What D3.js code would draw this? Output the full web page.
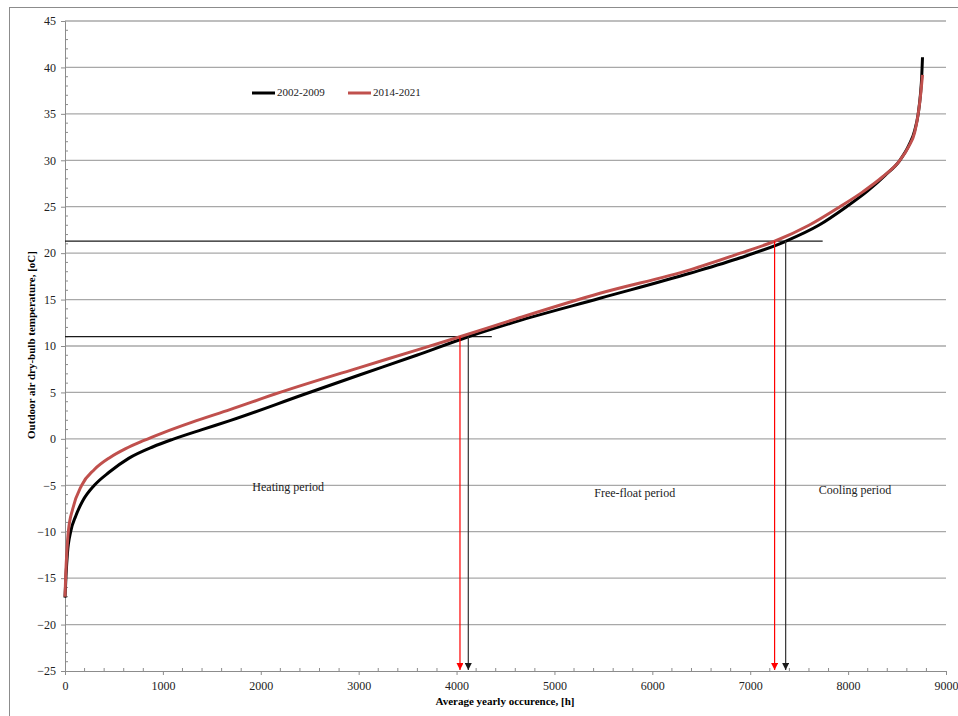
<!DOCTYPE html>
<html lang="en">
<head>
<meta charset="UTF-8">
<title>Outdoor air dry-bulb temperature duration curve</title>
<script src="https://d3js.org/d3.v7.min.js"></script>
<style>
    body { margin: 0; background: #fff; }
    svg text { font-family: "Liberation Serif", "Times New Roman", serif; }
</style>
</head>
<body>
<svg id="chart" width="958" height="716"></svg>
<script>
    // duration curves, hours vs temperature
    const hours2002 = [0, 10, 25, 58, 110, 180, 300, 450, 650, 900, 1100, 1400, 1685, 2431, 3000, 3592, 4120, 4600, 5465, 6384, 6900, 7362, 7700, 7984, 8200, 8380, 8529, 8620, 8680, 8716, 8740, 8752, 8760];
    const temp2002  = [-17.1, -14.8, -12.3, -10, -8.3, -6.7, -5, -3.6, -2.1, -0.85, -0.05, 1.0, 1.96, 4.75, 6.85, 9.0, 11, 12.6, 15.14, 17.83, 19.5, 21.28, 23.0, 25, 26.7, 28.4, 30, 31.6, 33.2, 35, 37.2, 39, 41.1];
    const hours2014 = [0, 8, 20, 34, 80, 170, 300, 460, 620, 800, 1000, 1300, 1685, 2196, 3000, 3592, 4035, 4600, 5465, 6384, 6900, 7249, 7600, 7916, 8150, 8350, 8529, 8620, 8680, 8716, 8740, 8760];
    const temp2014  = [-17, -14.5, -12, -10, -7.5, -5, -3.3, -2.0, -1.05, -0.2, 0.65, 1.8, 3.15, 5, 7.65, 9.55, 11, 12.9, 15.68, 18.2, 20.0, 21.28, 23.0, 25, 26.6, 28.2, 30, 31.5, 33, 35, 37, 39.2];

    const seriesNames = ["2002-2009", "2014-2021"];
    const seriesColors = ["#000000", "#c0504d"];

    // period limits
    const limitTemps = [11, 21.3];
    const limitLineEnds = [4360, 7740];
    const crossBlack = [4120, 7362];
    const crossRed = [4035, 7249];

    const periodLabels = ["Heating period", "Free-float period", "Cooling period"];
    const periodX = [2280, 5820, 8070];
    const periodY = [-5.3, -6.0, -5.6];

    const xTicks = d3.range(0, 9001, 1000);
    const yTicks = d3.range(-25, 46, 5);

    const svg = d3.select("#chart");
    const x = d3.scaleLinear().domain([0, 9000]).range([65, 946]);
    const y = d3.scaleLinear().domain([-25, 45]).range([671, 21]);

    // outer frame (cropped in the picture)
    svg.append("rect")
        .attr("x", 9.5).attr("y", 7.5)
        .attr("width", 1000).attr("height", 800)
        .attr("fill", "none").attr("stroke", "#8c8c8c");

    // gridlines
    svg.append("g").selectAll("line")
        .data(yTicks.filter(t => t > -25))
        .join("line")
        .attr("x1", x(0)).attr("x2", x(9000))
        .attr("y1", d => y(d)).attr("y2", d => y(d))
        .attr("stroke", "#a8a8a8").attr("stroke-width", 1.3);

    // y axis with inward minor ticks
    const yAxis = svg.append("g").attr("transform", `translate(${x(0)},0)`)
        .call(d3.axisLeft(y).tickValues(yTicks).tickSize(4).tickPadding(5));
    yAxis.append("g").selectAll("line")
        .data(d3.range(-25, 46, 1).filter(t => t % 5 !== 0))
        .join("line")
        .attr("x1", 0).attr("x2", 3)
        .attr("y1", d => y(d)).attr("y2", d => y(d));

    // x axis with inward minor ticks
    const xAxis = svg.append("g").attr("transform", `translate(0,${y(-25)})`)
        .call(d3.axisBottom(x).tickValues(xTicks).tickSize(4).tickPadding(6).tickFormat(d3.format("d")));
    xAxis.append("g").selectAll("line")
        .data(d3.range(200, 9000, 200).filter(t => t % 1000 !== 0))
        .join("line")
        .attr("x1", d => x(d)).attr("x2", d => x(d))
        .attr("y1", 0).attr("y2", -3);

    [yAxis, xAxis].forEach(a => {
        a.selectAll("path, line").attr("stroke", "#8c8c8c");
        a.selectAll("text").attr("fill", "#222").style("font-size", "12px")
            .style("font-family", '"Liberation Serif", "Times New Roman", serif');
    });

    // arrow markers
    const defs = svg.append("defs");
    [["arrRed", "#ff0000"], ["arrBlack", "#1a1a1a"]].forEach(([id, c]) => {
        defs.append("marker")
            .attr("id", id)
            .attr("viewBox", "0 0 10 10")
            .attr("refX", 10).attr("refY", 5)
            .attr("markerWidth", 7).attr("markerHeight", 7)
            .attr("markerUnits", "userSpaceOnUse")
            .attr("orient", "auto")
            .append("path")
            .attr("d", "M0,0 L10,5 L0,10 Z")
            .attr("fill", c);
    });

    // horizontal limit lines
    svg.append("g").selectAll("line")
        .data(limitTemps)
        .join("line")
        .attr("x1", x(0)).attr("x2", (d, i) => x(limitLineEnds[i]))
        .attr("y1", d => y(d)).attr("y2", d => y(d))
        .attr("stroke", "#1a1a1a").attr("stroke-width", 1.2);

    // duration curves
    const line = d3.line().curve(d3.curveMonotoneX);
    const curves = [
        hours2002.map((h, i) => [x(h), y(temp2002[i])]),
        hours2014.map((h, i) => [x(h), y(temp2014[i])])
    ];
    svg.append("g").selectAll("path")
        .data(curves)
        .join("path")
        .attr("d", d => line(d))
        .attr("fill", "none")
        .attr("stroke", (d, i) => seriesColors[i])
        .attr("stroke-width", 3);

    // vertical arrows down to the x axis
    svg.append("g").selectAll("line")
        .data(crossRed)
        .join("line")
        .attr("x1", d => x(d)).attr("x2", d => x(d))
        .attr("y1", (d, i) => y(limitTemps[i])).attr("y2", y(-25) - 1)
        .attr("stroke", "#ff0000").attr("stroke-width", 1.2)
        .attr("marker-end", "url(#arrRed)");
    svg.append("g").selectAll("line")
        .data(crossBlack)
        .join("line")
        .attr("x1", d => x(d)).attr("x2", d => x(d))
        .attr("y1", (d, i) => y(limitTemps[i])).attr("y2", y(-25) - 1)
        .attr("stroke", "#333").attr("stroke-width", 1.2)
        .attr("marker-end", "url(#arrBlack)");

    // period labels
    svg.append("g").selectAll("text")
        .data(periodLabels)
        .join("text")
        .attr("x", (d, i) => x(periodX[i]))
        .attr("y", (d, i) => y(periodY[i]))
        .attr("text-anchor", "middle")
        .attr("dominant-baseline", "middle")
        .style("font-size", "12px")
        .attr("fill", "#222")
        .text(d => d);

    // legend
    const legend = svg.append("g").attr("transform", "translate(252,93)");
    seriesNames.forEach((name, i) => {
        const g = legend.append("g").attr("transform", `translate(${i * 96},0)`);
        g.append("line").attr("x1", 0).attr("x2", 23).attr("y1", 0).attr("y2", 0)
            .attr("stroke", seriesColors[i]).attr("stroke-width", 3);
        g.append("text").attr("x", 25).attr("y", 0)
            .attr("dominant-baseline", "middle")
            .style("font-size", "11px").attr("fill", "#222")
            .text(name);
    });

    // axis titles
    svg.append("text")
        .attr("transform", "translate(35,345) rotate(-90)")
        .attr("text-anchor", "middle")
        .style("font-size", "11px").style("font-weight", "bold")
        .text("Outdoor air dry-bulb  temperature, [oC]");
    svg.append("text")
        .attr("x", 505).attr("y", 705)
        .attr("text-anchor", "middle")
        .style("font-size", "11px").style("font-weight", "bold")
        .text("Average yearly occurence, [h]");
</script>
</body>
</html>
